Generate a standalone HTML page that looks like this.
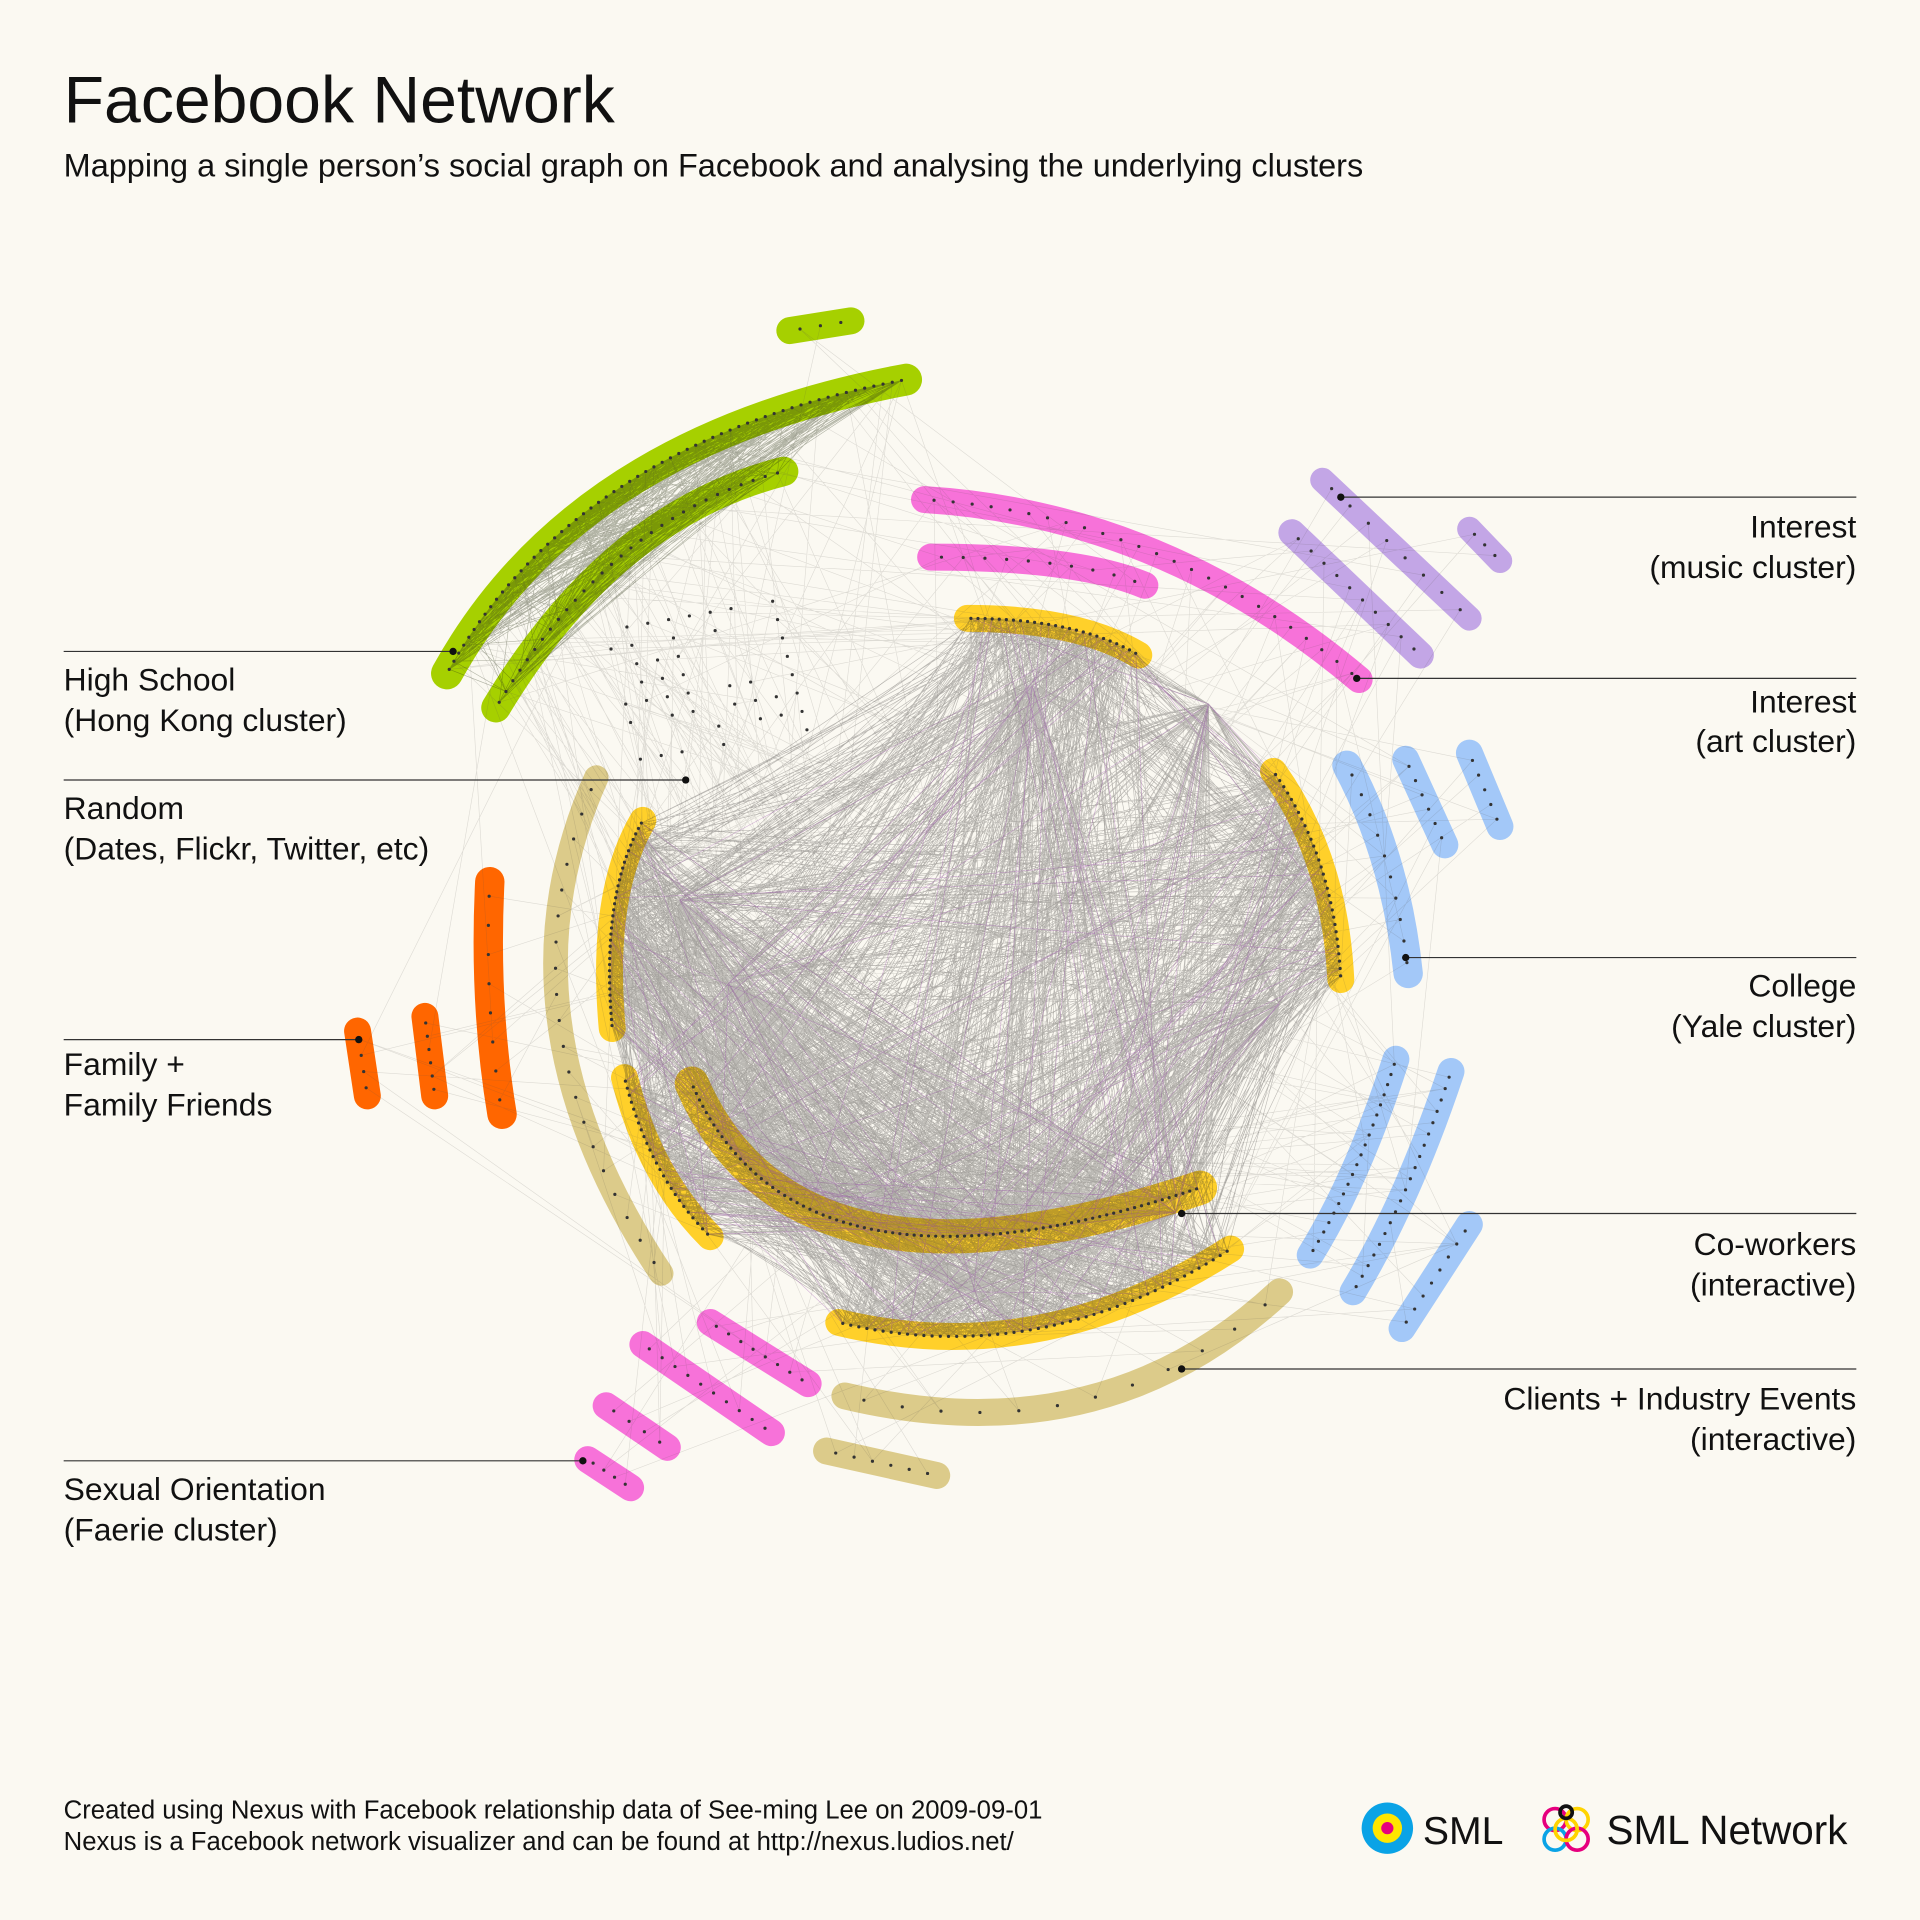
<!DOCTYPE html>
<html><head><meta charset="utf-8">
<style>
html,body{margin:0;padding:0;background:#fbf9f2;}
svg{display:block;}
text{font-family:"Liberation Sans","DejaVu Sans",sans-serif;fill:#111;}
</style></head>
<body>
<svg id="s" width="1920" height="1920" viewBox="0 0 1568 1568" xmlns="http://www.w3.org/2000/svg">
<rect width="1568" height="1568" fill="#fbf9f2"/>
<text x="52" y="100" font-size="54">Facebook Network</text>
<text x="52" y="144" font-size="26.5">Mapping a single person’s social graph on Facebook and analysing the underlying clusters</text>

<g id="arcs" fill="none" stroke-linecap="round"></g>
<g id="lines" stroke-width="0.5" fill="none"></g>
<g id="dots" fill="#333"></g>

<g stroke="#333" stroke-width="1" fill="none">
<line x1="52" y1="532" x2="370" y2="532"/>
<line x1="52" y1="637" x2="560" y2="637"/>
<line x1="52" y1="849" x2="293" y2="849"/>
<line x1="52" y1="1193" x2="476" y2="1193"/>
<line x1="1095" y1="406" x2="1516" y2="406"/>
<line x1="1108" y1="554" x2="1516" y2="554"/>
<line x1="1148" y1="782" x2="1516" y2="782"/>
<line x1="965" y1="991" x2="1516" y2="991"/>
<line x1="965" y1="1118" x2="1516" y2="1118"/>
</g>
<g fill="#111">
<circle cx="370" cy="532" r="3"/><circle cx="560" cy="637" r="3"/><circle cx="293" cy="849" r="3"/><circle cx="476" cy="1193" r="3"/>
<circle cx="1095" cy="406" r="3"/><circle cx="1108" cy="554" r="3"/><circle cx="1148" cy="782" r="3"/><circle cx="965" cy="991" r="3"/><circle cx="965" cy="1118" r="3"/>
</g>
<g font-size="26">
<text x="52" y="564">High School</text><text x="52" y="597">(Hong Kong cluster)</text>
<text x="52" y="669">Random</text><text x="52" y="702">(Dates, Flickr, Twitter, etc)</text>
<text x="52" y="878">Family +</text><text x="52" y="911">Family Friends</text>
<text x="52" y="1225">Sexual Orientation</text><text x="52" y="1258">(Faerie cluster)</text>
</g>
<g font-size="26" text-anchor="end">
<text x="1516" y="439">Interest</text><text x="1516" y="472">(music cluster)</text>
<text x="1516" y="582">Interest</text><text x="1516" y="614">(art cluster)</text>
<text x="1516" y="814">College</text><text x="1516" y="847">(Yale cluster)</text>
<text x="1516" y="1025">Co-workers</text><text x="1516" y="1058">(interactive)</text>
<text x="1516" y="1151">Clients + Industry Events</text><text x="1516" y="1184">(interactive)</text>
</g>
<g font-size="21">
<text x="52" y="1485">Created using Nexus with Facebook relationship data of See-ming Lee on 2009-09-01</text>
<text x="52" y="1511">Nexus is a Facebook network visualizer and can be found at http://nexus.ludios.net/</text>
</g>
<circle cx="1133" cy="1493" r="21" fill="#0aa3e6"/><circle cx="1133" cy="1493" r="12" fill="#ffe600"/><circle cx="1133" cy="1493" r="5" fill="#e6007e"/>
<text x="1162" y="1506" font-size="32">SML</text>
<g fill="none" stroke-width="3">
<circle cx="1270" cy="1486" r="9" stroke="#e6007e"/><circle cx="1288" cy="1486" r="9" stroke="#ffd400"/>
<circle cx="1270" cy="1502" r="9" stroke="#0aa3e6"/><circle cx="1288" cy="1502" r="9" stroke="#e6007e"/>
<circle cx="1279" cy="1494" r="9" stroke="#ffd400"/><circle cx="1279" cy="1480" r="5" stroke="#111"/>
</g>
<text x="1312" y="1506" font-size="33">SML Network</text>
</svg>
<script>
var NS="http://www.w3.org/2000/svg";
var arcs=[
["M365,550 Q470,360 740,310","#a6d000",26,60,0,1],
["M405,578 Q500,420 640,385","#a6d000",24,30,0,1],
["M645,270 L695,262","#a6d000",22,3],
["M755,408 Q950,420 1110,555","#f772d9",22,25],
["M760,455 Q880,455 935,478","#f772d9",22,10],
["M790,505 Q880,505 930,535","#ffd02a",22,25,1],
["M1080,392 L1200,505","#c3a6e6",20,8],
["M1055,435 L1160,535","#c3a6e6",22,10],
["M1200,432 L1225,458","#c3a6e6",20,3],
["M1100,625 Q1140,700 1150,795","#a3c8f8",24,10],
["M1148,620 L1180,690","#a3c8f8",22,6],
["M1200,615 L1225,675","#a3c8f8",22,5],
["M1140,865 Q1110,960 1070,1025","#a3c8f8",22,20],
["M1185,875 Q1150,980 1105,1055","#a3c8f8",22,20],
["M1200,1000 L1145,1085","#a3c8f8",22,8],
["M1040,630 Q1090,700 1095,800","#ffd02a",22,30,1],
["M525,670 Q490,730 500,840","#ffd02a",22,35,1],
["M510,880 Q530,960 580,1010","#ffd02a",22,25,1],
["M565,885 Q650,1080 980,970","#ffd02a",28,80,1],
["M685,1080 Q850,1120 1005,1020","#ffd02a",22,50,1],
["M487,635 Q400,830 540,1040","#dccb8a",20,20],
["M690,1140 Q900,1190 1045,1055","#dccb8a",22,12],
["M675,1185 L765,1205","#dccb8a",22,6],
["M400,720 Q395,820 410,910","#ff6600",24,8],
["M347,830 L355,895","#ff6600",22,6],
["M292,842 L300,895","#ff6600",22,4],
["M525,1098 L630,1170","#f772d9",22,10],
["M580,1080 L660,1130","#f772d9",22,8],
["M495,1148 L545,1182","#f772d9",22,4],
["M480,1192 L515,1215","#f772d9",22,4]
];
var seed=7;function r(){seed=(seed*16807)%2147483647;return seed/2147483647;}
var ga=document.getElementById("arcs"),gl=document.getElementById("lines"),gd=document.getElementById("dots");
var pts=[],inner=[],green=[];
arcs.forEach(function(a){var p=document.createElementNS(NS,"path");p.setAttribute("d",a[0]);p.setAttribute("stroke",a[1]);p.setAttribute("stroke-width",a[2]);ga.appendChild(p);
var L=p.getTotalLength();for(var i=0;i<a[3];i++){var q=p.getPointAtLength(L*(i+0.5)/a[3]);pts.push([q.x,q.y]);if(a[4])inner.push([q.x,q.y]);if(a[5])green.push([q.x,q.y]);var c=document.createElementNS(NS,"circle");c.setAttribute("cx",q.x);c.setAttribute("cy",q.y);c.setAttribute("r",1.3);gd.appendChild(c);}});
for(var gx=0;gx<9;gx++)for(var gy=0;gy<8;gy++){if(r()<0.45)continue;var x=495+gx*17+gy*4,y=515+gy*15-gx*3;var c=document.createElementNS(NS,"circle");c.setAttribute("cx",x);c.setAttribute("cy",y);c.setAttribute("r",1.3);gd.appendChild(c);pts.push([x,y]);}
var hubs=[[843,560],[795,1055],[987,575],[555,735],[595,803],[1045,820],[960,990]];
function pick(arr){return arr[Math.floor(r()*arr.length)];}
function seg(a,b){return "M"+a[0].toFixed(1)+","+a[1].toFixed(1)+"L"+b[0].toFixed(1)+","+b[1].toFixed(1);}
var d="",dp="",dl="",dg="";
for(var i=0;i<2200;i++){var a=pick(inner),b=r()<0.35?pick(hubs):pick(inner);
 if(r()<0.06)dp+=seg(a,b);else d+=seg(a,b);}
for(var i=0;i<500;i++){var a=pick(pts),b=r()<0.5?pick(inner):pick(pts);dl+=seg(a,b);}
for(var i=0;i<400;i++){dg+=seg(pick(green),pick(green));}
function add(dd,col){var l=document.createElementNS(NS,"path");l.setAttribute("d",dd);l.setAttribute("stroke",col);gl.appendChild(l);}
add(dl,"rgba(90,85,80,0.18)");
add(dg,"rgba(40,50,20,0.35)");
add(d,"rgba(40,38,35,0.3)");
add(dp,"rgba(150,70,170,0.4)");
</script>
</body></html>
